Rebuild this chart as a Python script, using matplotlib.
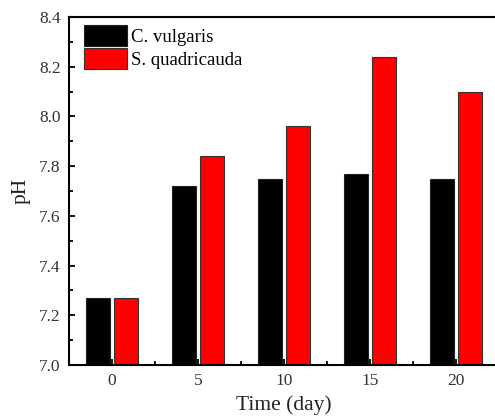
import matplotlib
matplotlib.use("Agg")
import matplotlib.pyplot as plt
import numpy as np
from matplotlib.ticker import MultipleLocator, FixedLocator

categories = ["0", "5", "10", "15", "20"]
c_vulgaris = [7.27, 7.72, 7.75, 7.77, 7.75]
s_quadricauda = [7.27, 7.84, 7.96, 8.24, 8.10]
series_names = ["C. vulgaris", "S. quadricauda"]

plt.rcParams['font.family'] = ['Liberation Serif', 'DejaVu Serif']

fig = plt.figure(figsize=(4.95, 4.2), dpi=100)
ax = fig.add_axes([69/495, 55/420, 430/495, 348/420])

x = np.arange(len(categories))
w = 0.28
off = 0.165
ax.bar(x - off, c_vulgaris, width=w, color='black', edgecolor='#222222', linewidth=0.8,
       label=series_names[0])
ax.bar(x + off, s_quadricauda, width=w, color='#ff0000', edgecolor='#333333', linewidth=0.8,
       label=series_names[1])

ax.set_ylim(7.0, 8.4)
ax.set_xlim(-0.5, len(categories) - 0.5)
ax.set_xticks(x)
ax.set_xticklabels(categories)
ax.xaxis.set_minor_locator(FixedLocator(x[:-1] + 0.5))
ax.yaxis.set_major_locator(MultipleLocator(0.2))
ax.yaxis.set_minor_locator(MultipleLocator(0.1))
ax.yaxis.set_major_formatter(matplotlib.ticker.FormatStrFormatter('%.1f'))

ax.tick_params(which='both', direction='in', width=1.3, labelsize=12.5, colors='black')
ax.tick_params(which='major', length=4.5, pad=6)
ax.tick_params(which='minor', length=3)
ax.tick_params(axis='y', labelcolor='#333333')
ax.tick_params(axis='x', labelcolor='#333333')

for s in ax.spines.values():
    s.set_linewidth(1.5)

ax.set_xlabel("Time (day)", fontsize=15.5, color='#222222', labelpad=4)
ax.set_ylabel("pH", fontsize=15.5, color='#222222', labelpad=6)

leg = ax.legend(loc='upper left', bbox_to_anchor=(15/430, 1 - 8/348), frameon=False,
                fontsize=13.5, handlelength=2.3, handleheight=1.35, labelspacing=0.1,
                handletextpad=0.2, borderpad=0, borderaxespad=0)

fig.savefig("out.png", dpi=100)
